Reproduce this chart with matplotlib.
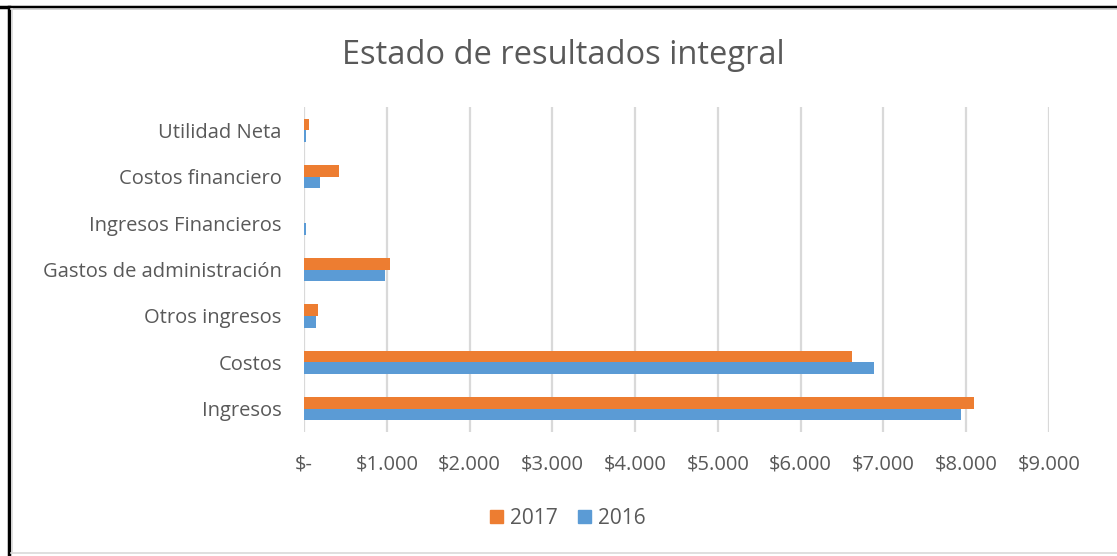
import matplotlib
matplotlib.use("Agg")
import matplotlib.pyplot as plt
from matplotlib.lines import Line2D
from matplotlib.patches import Patch

categories = ["Ingresos", "Costos", "Otros ingresos", "Gastos de administración",
              "Ingresos Financieros", "Costos financiero", "Utilidad Neta"]
values_2017 = [8090, 6620, 170, 1040, 0, 420, 65]
values_2016 = [7940, 6885, 145, 980, 25, 190, 25]
x_ticks = [0, 1000, 2000, 3000, 4000, 5000, 6000, 7000, 8000, 9000]
x_tick_labels = ["$-", "$1.000", "$2.000", "$3.000", "$4.000", "$5.000",
                 "$6.000", "$7.000", "$8.000", "$9.000"]
title = "Estado de resultados integral"

orange = "#ED7D31"
blue = "#5B9BD5"
grey_text = "#595959"
grid_c = "#D9D9D9"

plt.rcParams['font.family'] = ['Open Sans', 'DejaVu Sans']

W, H = 1117, 556
fig = plt.figure(figsize=(W / 100, H / 100), dpi=100)
ax = fig.add_axes([304 / W, 1 - 432 / H, (1049 - 304) / W, (432 - 107) / H])

pos = list(range(len(categories)))
h = 0.25
ax.barh([p + h / 2 for p in pos], values_2017, height=h, color=orange, label="2017", zorder=3)
ax.barh([p - h / 2 for p in pos], values_2016, height=h, color=blue, label="2016", zorder=3)

ax.set_xlim(0, 9000)
ax.set_ylim(-0.5, len(categories) - 0.5)
ax.set_xticks(x_ticks)
ax.set_xticklabels(x_tick_labels)
ax.set_yticks(pos)
ax.set_yticklabels(categories)
ax.tick_params(axis='both', length=0, colors=grey_text, labelsize=14.5)
ax.tick_params(axis='x', pad=16)
ax.tick_params(axis='y', pad=16)
ax.xaxis.grid(True, color=grid_c, linewidth=1.6, zorder=0)
for s in ax.spines.values():
    s.set_visible(False)

fig.text(563 / W, 1 - 55 / H, title, ha='center', va='center', fontsize=23.5,
         color=grey_text)

handles = [Patch(color=orange, label="2017"), Patch(color=blue, label="2016")]
fig.legend(handles=handles, loc='center', bbox_to_anchor=(568 / W, 1 - 518 / H),
           ncol=2, frameon=False, fontsize=15, labelcolor=grey_text,
           handlelength=0.6, handleheight=0.6, handletextpad=0.35, columnspacing=1.0)

# frame lines (screenshot borders)
fig.add_artist(Line2D([0, 1], [1 - 7 / H, 1 - 7 / H], transform=fig.transFigure,
                      color='black', linewidth=2.5))
fig.add_artist(Line2D([9 / W, 9 / W], [0, 1 - 7 / H], transform=fig.transFigure,
                      color='black', linewidth=2.5))
fig.add_artist(Line2D([11 / W, 1], [1 - 9 / H, 1 - 9 / H], transform=fig.transFigure,
                      color=grid_c, linewidth=1.2))
fig.add_artist(Line2D([11.5 / W, 11.5 / W], [1 - 553 / H, 1 - 9 / H], transform=fig.transFigure,
                      color=grid_c, linewidth=1.2))
fig.add_artist(Line2D([11 / W, 1], [1 - 553 / H, 1 - 553 / H], transform=fig.transFigure,
                      color=grid_c, linewidth=1.2))

fig.savefig("out.png", dpi=100)
